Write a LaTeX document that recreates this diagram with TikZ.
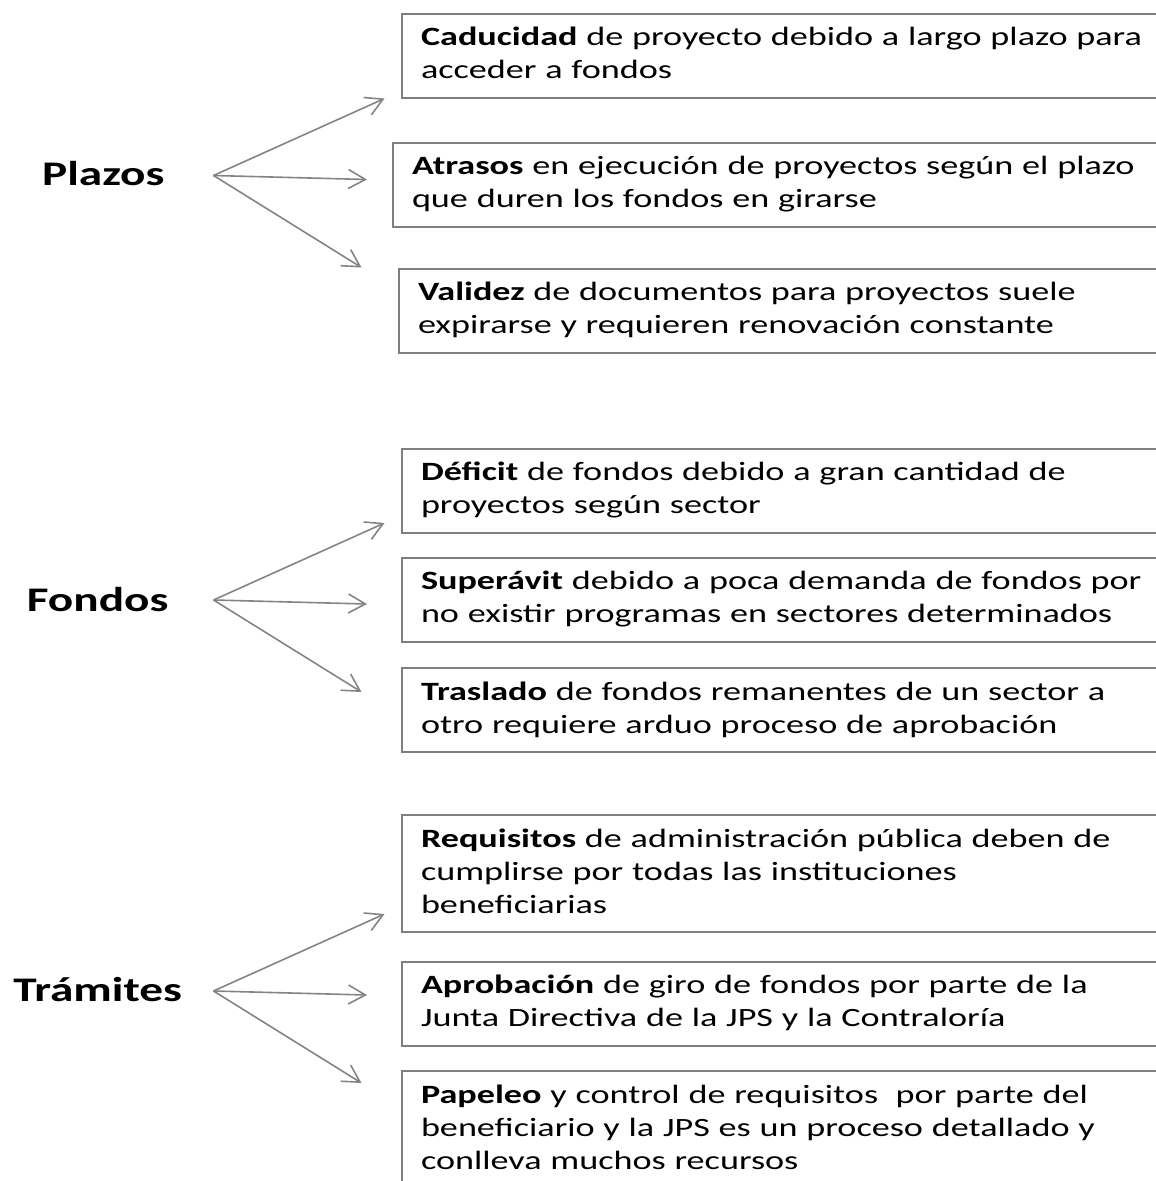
\documentclass[tikz,border=0pt]{standalone}
\usepackage{fontspec}
\setmainfont{Carlito}[FakeStretch=1.37]
\usetikzlibrary{arrows.meta}

\definecolor{framegray}{HTML}{7F7F7F}
\definecolor{arrowgray}{HTML}{848484}
\newcommand{\bodysize}{\fontsize{26.4}{33}\selectfont}
\newcommand{\headsize}{\fontsize{34.5}{40}\selectfont}

\tikzset{
  issue/.style={draw=framegray, line width=2pt, anchor=north west,
    text width=760pt, align=left, inner xsep=19pt, inner ysep=9pt,
    font=\bodysize},
  topic/.style={anchor=base, font=\headsize\bfseries},
  branch/.style={draw=arrowgray, line width=1.6pt,
    -{Straight Barb[length=17pt,width=19pt]}}
}

\begin{document}
\begin{tikzpicture}[x=1pt, y=-1pt]
  % Page frame
  \useasboundingbox (0,0) rectangle (1156,1181);
  \clip (0,0) rectangle (1156,1181);

  % Topics
  \node[topic] (plazos)   at (103.3,185.7)  {Plazos};
  \node[topic] (fondos)   at (97.6,611.5)   {Fondos};
  \node[topic] (tramites) at (97.7,1001.7)  {Trámites};

  % === PLAZOS ===
  \node[issue] (cad) at (401,12.7)
    {\strut\textbf{Caducidad} de proyecto debido a largo plazo para\\acceder a fondos\strut};
  \node[issue] (atr) at (392,141.7)
    {\strut\textbf{Atrasos} en ejecución de proyectos según el plazo\\que duren los fondos en girarse\strut};
  \node[issue] (val) at (398,267.7)
    {\strut\textbf{Validez} de documentos para proyectos suele\\expirarse y requieren renovación constante\strut};

  % === FONDOS ===
  \node[issue] (def) at (401,447.7)
    {\strut\textbf{Déficit} de fondos debido a gran cantidad de\\proyectos según sector\strut};
  \node[issue] (sup) at (401,556.7)
    {\strut\textbf{Superávit} debido a poca demanda de fondos por\\no existir programas en sectores determinados\strut};
  \node[issue] (tra) at (401,667.3)
    {\strut\textbf{Traslado} de fondos remanentes de un sector a\\otro requiere arduo proceso de aprobación\strut};

  % === TRAMITES ===
  \node[issue] (req) at (401,814)
    {\strut\textbf{Requisitos} de administración pública deben de\\cumplirse por todas las instituciones\\beneficiarias\strut};
  \node[issue] (apr) at (401,960.7)
    {\strut\textbf{Aprobación} de giro de fondos por parte de la\\Junta Directiva de la JPS y la Contraloría\strut};
  \node[issue] (pap) at (401,1070)
    {\strut\textbf{Papeleo} y control de requisitos \ por parte del\\beneficiario y la JPS es un proceso detallado y\\conlleva muchos recursos\strut};

  % Fans of arrows
  \foreach \fan/\y in {pz/175.5, fd/600, tr/991} {
    \coordinate (\fan) at (213.5,\y);
    \coordinate (\fan-up) at (384.5,\y-77);
    \coordinate (\fan-mid) at (367,\y+4);
    \coordinate (\fan-low) at (361.5,\y+92);
    \draw[branch] (\fan) -- (\fan-up);
    \draw[branch] (\fan) -- (\fan-mid);
    \draw[branch] (\fan) -- (\fan-low);
  }
\end{tikzpicture}
\end{document}
